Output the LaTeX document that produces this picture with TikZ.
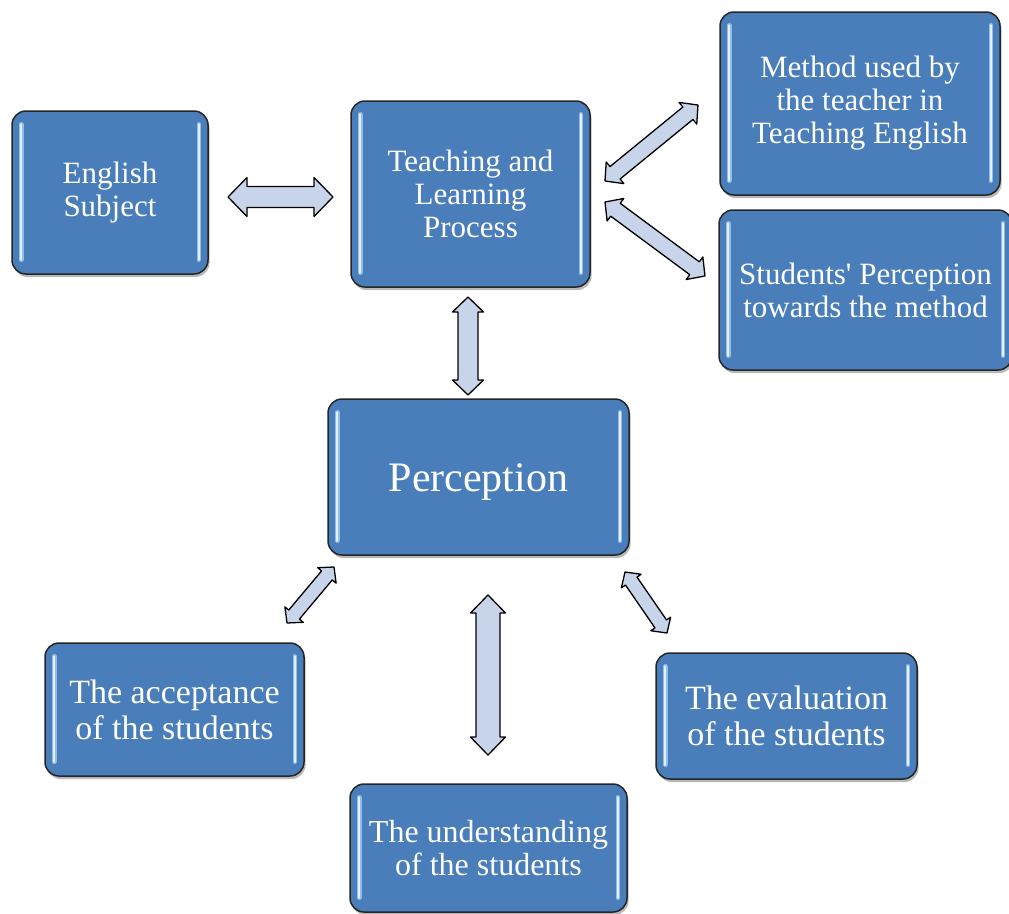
\documentclass[tikz,border=0pt]{standalone}
\usepackage{fontspec}
\setmainfont{Liberation Serif}[Ligatures=TeXOff]
\usetikzlibrary{calc,shadows}
\definecolor{boxblue}{HTML}{4A7EBB}
\definecolor{arrowfill}{HTML}{C8D4EA}
\definecolor{hlouter}{HTML}{93BDE8}
\definecolor{hlinner}{HTML}{E2F1FF}
\tikzset{
  box/.style={draw=black!85, line width=1.5pt, fill=boxblue, rounded corners=14pt,
    text=white, align=center, inner sep=0pt,
    drop shadow={shadow xshift=1.5pt, shadow yshift=-3pt, fill=black, opacity=0.28}},
  txtA/.style={font=\fontsize{31}{33}\selectfont},
  txtB/.style={font=\fontsize{34}{36}\selectfont},
  txtC/.style={font=\fontsize{32}{33}\selectfont},
  txtP/.style={font=\fontsize{42}{46}\selectfont},
  arrowstyle/.style={draw=black, line width=1.3pt, fill=arrowfill, line join=round},
  hlo/.style={draw=hlouter, line width=4.5pt, line cap=round},
  hli/.style={draw=hlinner, line width=2pt, line cap=round}
}
\newcommand\blockarr[5]{%
  \draw[arrowstyle] let \p1=($(#2)-(#1)$), \n1={atan2(\y1,\x1)}, \n2={veclen(\x1,\y1)} in
   [shift={(#1)}, rotate=\n1]
   (0pt,0pt) -- ({#3*1pt},{#4*1pt}) -- ({#3*1pt},{#5*1pt}) -- ({(\n2-#3)*1pt},{#5*1pt})
   -- ({(\n2-#3)*1pt},{#4*1pt}) -- ({\n2*1pt},0pt) -- ({(\n2-#3)*1pt},{-#4*1pt})
   -- ({(\n2-#3)*1pt},{-#5*1pt}) -- ({#3*1pt},{-#5*1pt}) -- ({#3*1pt},{-#4*1pt}) -- cycle;}
\begin{document}
\begin{tikzpicture}[x=1pt,y=-1pt]
\useasboundingbox (0,0) rectangle (1009,913);
\clip (0,0) rectangle (1009,913);
\fill[white] (0,0) rectangle (1009,913);

\node[box, txtA, minimum width=196pt, minimum height=163pt] (eng) at (110,192.5) {English\\Subject};
\node[box, txtA, minimum width=239pt, minimum height=186pt] (tlp) at (470.5,194) {Teaching and\\Learning\\Process};
\node[box, txtA, minimum width=280pt, minimum height=183pt] (meth) at (860,103.5) {Method used by\\the teacher in\\Teaching English};
\node[box, txtA, minimum width=293pt, minimum height=160pt] (stud) at (865.5,290) {Students' Perception\\towards the method};
\node[box, txtP, minimum width=301pt, minimum height=156pt] (perc) at (478.5,477) {\raisebox{-5pt}[\height][\depth]{Perception}};
\node[box, txtB, minimum width=259pt, minimum height=133pt] (acc) at (174.5,709.5) {The acceptance\\of the students};
\node[box, txtB, minimum width=261pt, minimum height=126pt] (eval) at (786.5,716) {The evaluation\\of the students};
\node[box, txtC, minimum width=277pt, minimum height=128pt] (und) at (488.5,848) {The understanding\\of the students};

\foreach \n in {eng,tlp,meth,stud,perc,acc,eval,und}{
  \draw[hlo] ([xshift=10pt,yshift=-14pt]\n.north west) -- ([xshift=10pt,yshift=15pt]\n.south west);
  \draw[hli] ([xshift=10pt,yshift=-14pt]\n.north west) -- ([xshift=10pt,yshift=15pt]\n.south west);
  \draw[hlo] ([xshift=-10pt,yshift=-14pt]\n.north east) -- ([xshift=-10pt,yshift=15pt]\n.south east);
  \draw[hli] ([xshift=-10pt,yshift=-14pt]\n.north east) -- ([xshift=-10pt,yshift=15pt]\n.south east);
}

\coordinate (a1s) at (228,197);
\coordinate (a1e) at (333,197);
\coordinate (a2s) at (605,181);
\coordinate (a2e) at (698,105);
\coordinate (a3s) at (605,202);
\coordinate (a3e) at (705,276);
\coordinate (a4s) at (468,297);
\coordinate (a4e) at (468,395);
\coordinate (a5s) at (334,567);
\coordinate (a5e) at (287,623);
\coordinate (a6s) at (488,595);
\coordinate (a6e) at (488,755);
\coordinate (a7s) at (625,572);
\coordinate (a7e) at (667,633);

\blockarr{a1s}{a1e}{19}{19.5}{10.5}
\blockarr{a2s}{a2e}{13}{14}{8}
\blockarr{a3s}{a3e}{13}{14}{8}
\blockarr{a4s}{a4e}{15}{15.5}{10}
\blockarr{a5s}{a5e}{11}{12}{7}
\blockarr{a6s}{a6e}{18}{17.5}{12}
\blockarr{a7s}{a7e}{11}{12}{7}
\end{tikzpicture}
\end{document}
